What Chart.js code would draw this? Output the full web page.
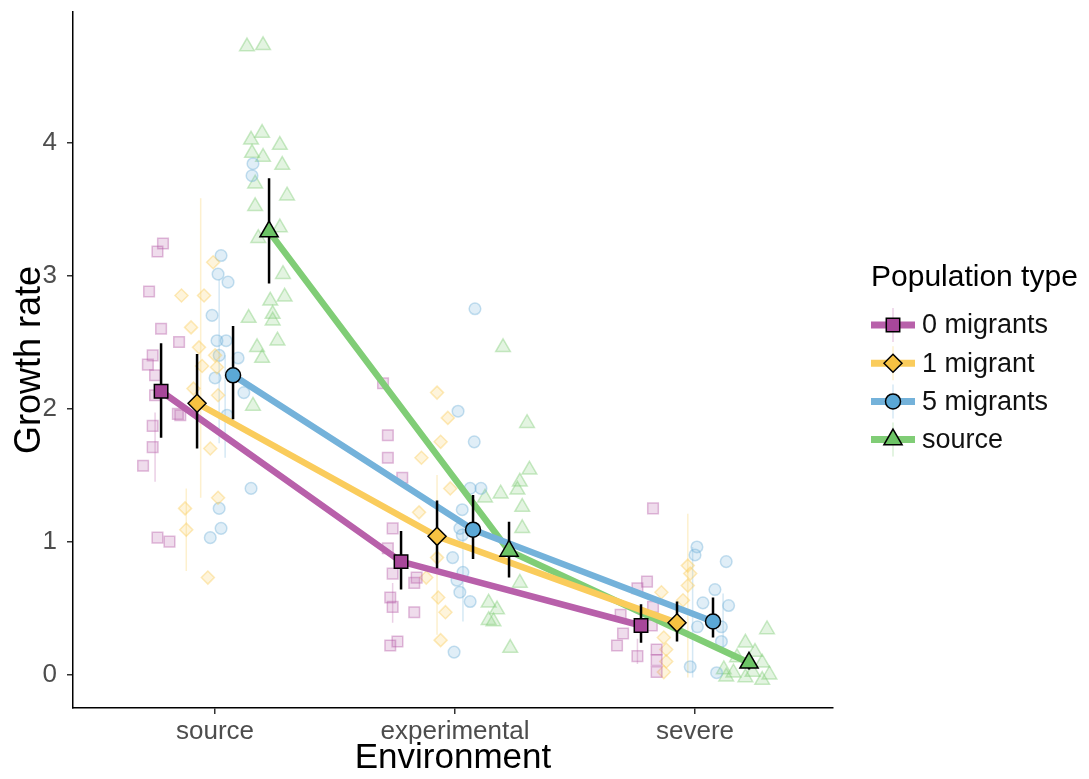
<!DOCTYPE html>
<html>
<head>
<meta charset="utf-8">
<title>Growth rate by environment</title>
<script src="https://cdn.jsdelivr.net/npm/chart.js@4.4.1/dist/chart.umd.min.js"></script>
<style>
html, body { margin: 0; padding: 0; background: #fff; }
#wrap { width: 1089px; height: 779px; }
</style>
</head>
<body>
<div id="wrap"><canvas id="chart" width="1089" height="779"></canvas></div>
<script>
// Data
const environments = ['source', 'experimental', 'severe'];
const populationTypes = ['0 migrants', '1 migrant', '5 migrants', 'source'];
const yTicks = [0, 1, 2, 3, 4];

// means and error bars per population type, one value per environment
const meanGrowth = [[2.13, 0.85, 0.37], [2.04, 1.04, 0.39], [2.25, 1.09, 0.40], [3.33, 0.93, 0.09]];
const ciLower = [[1.78, 0.64, 0.24], [1.70, 0.80, 0.25], [1.92, 0.87, 0.28], [2.94, 0.73, 0.04]];
const ciUpper = [[2.49, 1.08, 0.53], [2.41, 1.31, 0.55], [2.62, 1.35, 0.58], [3.73, 1.15, 0.15]];

// individual replicates [x (jittered), growth rate]
const rawZero = [[-0.217,3.24],[-0.24,3.18],[-0.275,2.88],[-0.225,2.60],[-0.15,2.50],[-0.26,2.40],[-0.28,2.33],[-0.25,2.25],[-0.25,2.10],[-0.155,1.96],[-0.145,1.95],[-0.26,1.87],[-0.26,1.71],[-0.30,1.57],[-0.24,1.03],[-0.19,1.00],
  [0.70,2.19],[0.72,1.80],[0.72,1.63],[0.78,1.48],[0.74,1.10],[0.72,0.95],[0.74,0.76],[0.84,0.73],[0.83,0.69],[0.73,0.58],[0.74,0.51],[0.83,0.47],[0.73,0.22],[0.76,0.25],
  [1.825,1.25],[1.80,0.70],[1.76,0.65],[1.825,0.51],[1.69,0.45],[1.82,0.37],[1.70,0.31],[1.675,0.22],[1.84,0.19],[1.76,0.14],[1.84,0.11],[1.84,0.02]];
const rawOne = [[-0.008,3.10],[-0.14,2.85],[-0.046,2.85],[-0.10,2.61],[-0.067,2.46],[0,2.40],[-0.054,2.32],[0.008,2.31],[-0.09,2.15],[0.0125,2.10],[-0.02,1.70],[0.0125,1.33],[-0.125,1.25],[-0.12,1.09],[-0.03,0.73],
  [0.925,2.12],[0.97,1.93],[0.94,1.75],[0.86,1.63],[0.98,1.40],[0.85,1.22],[0.925,0.88],[0.88,0.73],[0.93,0.58],[0.96,0.47],[0.94,0.26],
  [1.97,0.82],[1.97,0.67],[1.95,0.56],[1.86,0.62],[1.87,0.28],[1.88,0.19],[1.88,0.10],[1.87,0.02],[1.98,0.76]];
const rawFive = [[0.158,3.84],[0.154,3.75],[0.025,3.15],[0.0125,3.01],[0.054,2.95],[-0.0125,2.70],[0.008,2.51],[0.046,2.51],[0.017,2.40],[0.096,2.38],[0,2.23],[0.12,2.12],[0.05,1.95],[0.15,1.40],[0.017,1.25],[0.025,1.10],[-0.02,1.03],
  [1.083,2.75],[1.0125,1.98],[1.08,1.75],[1.063,1.40],[1.108,1.40],[1.03,1.24],[1.02,1.10],[1.03,1.05],[0.99,0.88],[1.033,0.77],[1.008,0.71],[1.02,0.62],[1.063,0.55],[0.996,0.17],
  [2.008,0.96],[2.0,0.90],[2.13,0.85],[2.083,0.64],[2.033,0.54],[2.14,0.52],[2.11,0.36],[2.01,0.36],[2.11,0.25],[1.98,0.06],[2.09,0.015]];
const rawSource = [[0.133,4.72],[0.2,4.73],[0.196,4.07],[0.15,4.02],[0.27,3.98],[0.154,3.92],[0.2,3.89],[0.28,3.83],[0.167,3.69],[0.3,3.60],[0.167,3.52],[0.27,3.36],[0.18,3.28],[0.283,3.01],[0.23,2.81],[0.29,2.84],[0.14,2.68],[0.24,2.71],[0.24,2.66],[0.26,2.51],[0.175,2.46],[0.196,2.38],[0.158,2.02],
  [1.2,2.46],[1.3,1.89],[1.31,1.54],[1.27,1.45],[1.19,1.36],[1.125,1.33],[1.26,1.39],[1.28,1.26],[1.28,1.10],[1.27,0.69],[1.14,0.54],[1.175,0.49],[1.14,0.41],[1.16,0.40],[1.23,0.20],
  [2.3,0.34],[2.21,0.24],[2.25,0.17],[2.175,0.13],[2.28,0.09],[2.12,0.04],[2.16,0.015],[2.24,0.02],[2.31,0],[2.21,-0.02],[2.13,-0.015],[2.28,-0.04]];

// replicate-level intervals [x, low, high]
const repZero = [[-0.25,1.45,1.97],[0.74,0.39,0.69],[1.76,0.08,0.27]];
const repOne = [[-0.06,1.33,3.58],[-0.12,0.78,1.40],[0.925,0.30,1.50],[1.97,-0.02,1.21]];
const repFive = [[0.017,1.74,2.97],[0.042,1.63,2.40],[1.033,0.40,1.10],[1.99,-0.02,0.96],[2.117,0.19,0.61]];
const repSource = [];

const rawSets = [rawZero, rawOne, rawFive, rawSource];
const repSets = [repZero, repOne, repFive, repSource];
const dodge = [-0.225, -0.075, 0.075, 0.225];

// styling
const rgb = ['184,96,170', '250,204,92', '116,178,218', '128,205,118'];
const markerFill = ['#a8479a', '#f7c242', '#5ba8d6', '#6dc466'];
const shapes = ['rect', 'rectRot', 'circle', 'triangle'];
const meanRadius = [9.5, 9, 7.5, 10.5];
const rawRadius = [7.5, 6.5, 5.8, 8.5];
const FONT = '"Liberation Sans", Arial, Helvetica, sans-serif';

const datasets = [];
populationTypes.forEach((name, g) => {
  // mean markers (on top)
  datasets.push({
    label: name, order: 1, showLine: false,
    data: environments.map((e, i) => ({ x: i + dodge[g], y: meanGrowth[g][i] })),
    pointStyle: shapes[g], pointRadius: meanRadius[g], pointBackgroundColor: markerFill[g],
    pointBorderColor: '#000', pointBorderWidth: 1.5
  });
  // error bars
  const eb = [];
  environments.forEach((e, i) => {
    eb.push({ x: i + dodge[g], y: ciLower[g][i] }, { x: i + dodge[g], y: ciUpper[g][i] }, { x: i + dodge[g], y: null });
  });
  datasets.push({ label: name + ' se', order: 2, showLine: true, data: eb, borderColor: '#000', borderWidth: 2.5, pointRadius: 0 });
  // connecting line
  datasets.push({
    label: name + ' line', order: 3, showLine: true, pointRadius: 0,
    data: environments.map((e, i) => ({ x: i + dodge[g], y: meanGrowth[g][i] })),
    borderColor: 'rgb(' + rgb[g] + ')', borderWidth: 6.5, borderCapStyle: 'round'
  });
  // replicate points
  datasets.push({
    label: name + ' raw', order: 5, showLine: false,
    data: rawSets[g].map(p => ({ x: p[0], y: p[1] })),
    pointStyle: shapes[g], pointRadius: rawRadius[g],
    pointBackgroundColor: 'rgba(' + rgb[g] + ',0.22)', pointBorderColor: 'rgba(' + rgb[g] + ',0.42)', pointBorderWidth: 1.5
  });
  // replicate intervals
  const rl = [];
  repSets[g].forEach(r => { rl.push({ x: r[0], y: r[1] }, { x: r[0], y: r[2] }, { x: r[0], y: null }); });
  datasets.push({ label: name + ' rep', order: 6, showLine: true, data: rl, borderColor: 'rgba(' + rgb[g] + ',0.3)', borderWidth: 1.5, pointRadius: 0 });
});

// legend drawn on the right like the ggplot guide
const sideLegend = {
  id: 'sideLegend',
  afterDraw(chart) {
    const ctx = chart.ctx;
    ctx.save();
    ctx.fillStyle = '#000';
    ctx.textBaseline = 'alphabetic';
    ctx.font = '30px ' + FONT;
    ctx.fillText('Population type', 871, 286);
    populationTypes.forEach((name, g) => {
      const y = 325 + g * 38.2;
      ctx.strokeStyle = 'rgba(' + rgb[g] + ',0.3)'; ctx.lineWidth = 1.5;
      ctx.beginPath(); ctx.moveTo(893, y - 17); ctx.lineTo(893, y + 17); ctx.stroke();
      ctx.strokeStyle = 'rgb(' + rgb[g] + ')'; ctx.lineWidth = 7;
      ctx.beginPath(); ctx.moveTo(871, y); ctx.lineTo(915, y); ctx.stroke();
      ctx.fillStyle = markerFill[g]; ctx.strokeStyle = '#000'; ctx.lineWidth = 1.5;
      Chart.helpers.drawPoint(ctx, { pointStyle: shapes[g], radius: meanRadius[g], borderWidth: 1.5, rotation: 0 }, 893, y);
      ctx.fillStyle = '#111'; ctx.font = '27px ' + FONT; ctx.textBaseline = 'middle';
      ctx.fillText(name, 922, y + 1);
      ctx.textBaseline = 'alphabetic';
    });
    ctx.restore();
  }
};

new Chart(document.getElementById('chart'), {
  type: 'scatter',
  data: { datasets },
  plugins: [sideLegend],
  options: {
    responsive: false, animation: false,
    layout: { padding: { top: 10, right: 256, left: 0, bottom: 0 } },
    plugins: { legend: { display: false }, tooltip: { enabled: false } },
    elements: { line: { tension: 0 } },
    scales: {
      x: {
        type: 'linear', min: -0.592, max: 2.575,
        afterBuildTicks: s => { s.ticks = environments.map((e, i) => ({ value: i })); },
        afterFit: s => { s.height = 71; s.paddingLeft = 0; s.paddingRight = 0; },
        ticks: { callback: v => environments[v], color: '#4d4d4d', font: { family: FONT, size: 26 }, padding: 2, maxRotation: 0 },
        grid: { drawOnChartArea: false, drawTicks: true, tickLength: 6, color: '#333', lineWidth: 1.5 },
        border: { display: true, color: '#000', width: 1.5 },
        title: { display: true, text: 'Environment', color: '#000', font: { family: FONT, size: 35, lineHeight: 1 }, padding: { top: 0, bottom: 3 } }
      },
      y: {
        min: -0.25, max: 4.98,
        afterBuildTicks: s => { s.ticks = yTicks.map(v => ({ value: v })); },
        afterFit: s => { s.width = 73; s.paddingTop = 0; s.paddingBottom = 0; },
        ticks: { color: '#4d4d4d', font: { family: FONT, size: 26 }, padding: 10 },
        grid: { drawOnChartArea: false, drawTicks: true, tickLength: 6, color: '#333', lineWidth: 1.5 },
        border: { display: true, color: '#000', width: 1.5 },
        title: { display: true, text: 'Growth rate', color: '#000', font: { family: FONT, size: 36, lineHeight: 1 }, padding: { top: 12, bottom: 0 } }
      }
    }
  }
});
</script>
</body>
</html>
